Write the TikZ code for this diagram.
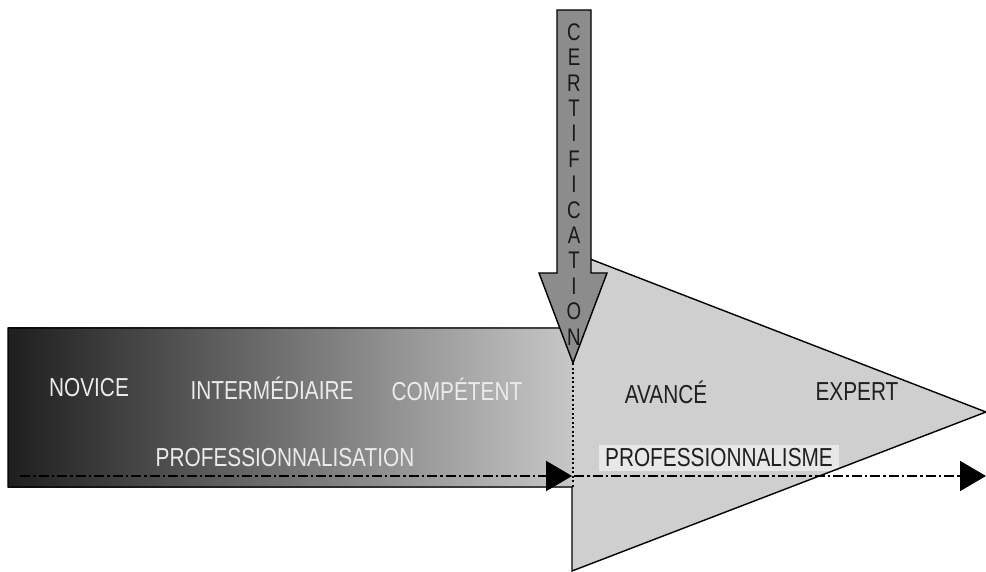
\documentclass[tikz,border=0pt]{standalone}
\usepackage{fontspec}
\setmainfont{Liberation Sans}[FakeStretch=0.8]
\newfontfamily\certfont{Liberation Sans}[FakeStretch=0.78]
\usetikzlibrary{arrows.meta}

\edef \ym {476}
\edef \xs {572}

\tikzset{
	stage/.style={font=\fontsize{26}{26}\selectfont, inner sep=1pt},
	lightstage/.style={stage, text=black!8},
	darkstage/.style={stage, text=black!88},
	certletter/.style={font=\certfont\fontsize{24}{24}\selectfont, inner sep=0pt, text=black!90},
	track/.style={line width=2.4pt, dash pattern=on 10pt off 3pt on 2.5pt off 3pt, -{Triangle[length=26pt,width=30pt]}},
}

\begin{document}
\begin{tikzpicture}[x=1pt, y=-1pt]

	\useasboundingbox (0,0) rectangle (986,572);

	\shade[left color=black!88, right color=black!22] (8,328) rectangle (\xs,487);
	\fill[black!19] (\xs,252) -- (986,412) -- (\xs,571) -- cycle;

	\node[lightstage] (novice) at (89,388) {NOVICE};
	\node[lightstage] (inter) at (272,388) {INTERMÉDIAIRE};
	\node[lightstage] (comp) at (457,389) {COMPÉTENT};
	\node[lightstage] (profn) at (285,458) {PROFESSIONNALISATION};

	\node[darkstage] (avance) at (666,392) {AVANCÉ};
	\node[darkstage] (expert) at (857,392) {EXPERT};
	\node[darkstage, fill=black!9, inner xsep=6pt, inner ysep=4pt] (prof) at (719,458) {PROFESSIONNALISME};

	\draw[line width=1.4pt] (8,328) -- (\xs,328) -- (\xs,252) -- (986,412) -- (\xs,571) -- (\xs,487) -- (8,487) -- cycle;

	\draw[line width=1.4pt, fill=black!45] (557,10) -- (591,10) -- (591,273) -- (607,273) -- (573,363) -- (539,273) -- (557,273) -- cycle;
	\coordinate (tip) at (573,363);

	\foreach \l [count=\i] in {C,E,R,T,I,F,I,C,A,T,I,O,N}
{
	\node[certletter] (cert\i) at (574,{32+(\i-1)*25.4}) {\l};
}

	\coordinate (sep) at (573,487);
	\draw[line width=2.2pt, dash pattern=on 2pt off 2.5pt] (tip) -- (sep);

	\coordinate (a0) at (20,\ym);
	\coordinate (a1) at (\xs,\ym);
	\coordinate (a2) at (574,\ym);
	\coordinate (a3) at (986,\ym);
	\draw[track] (a0) -- (a1);
	\draw[track, line width=1.9pt] (a2) -- (a3);

\end{tikzpicture}
\end{document}
